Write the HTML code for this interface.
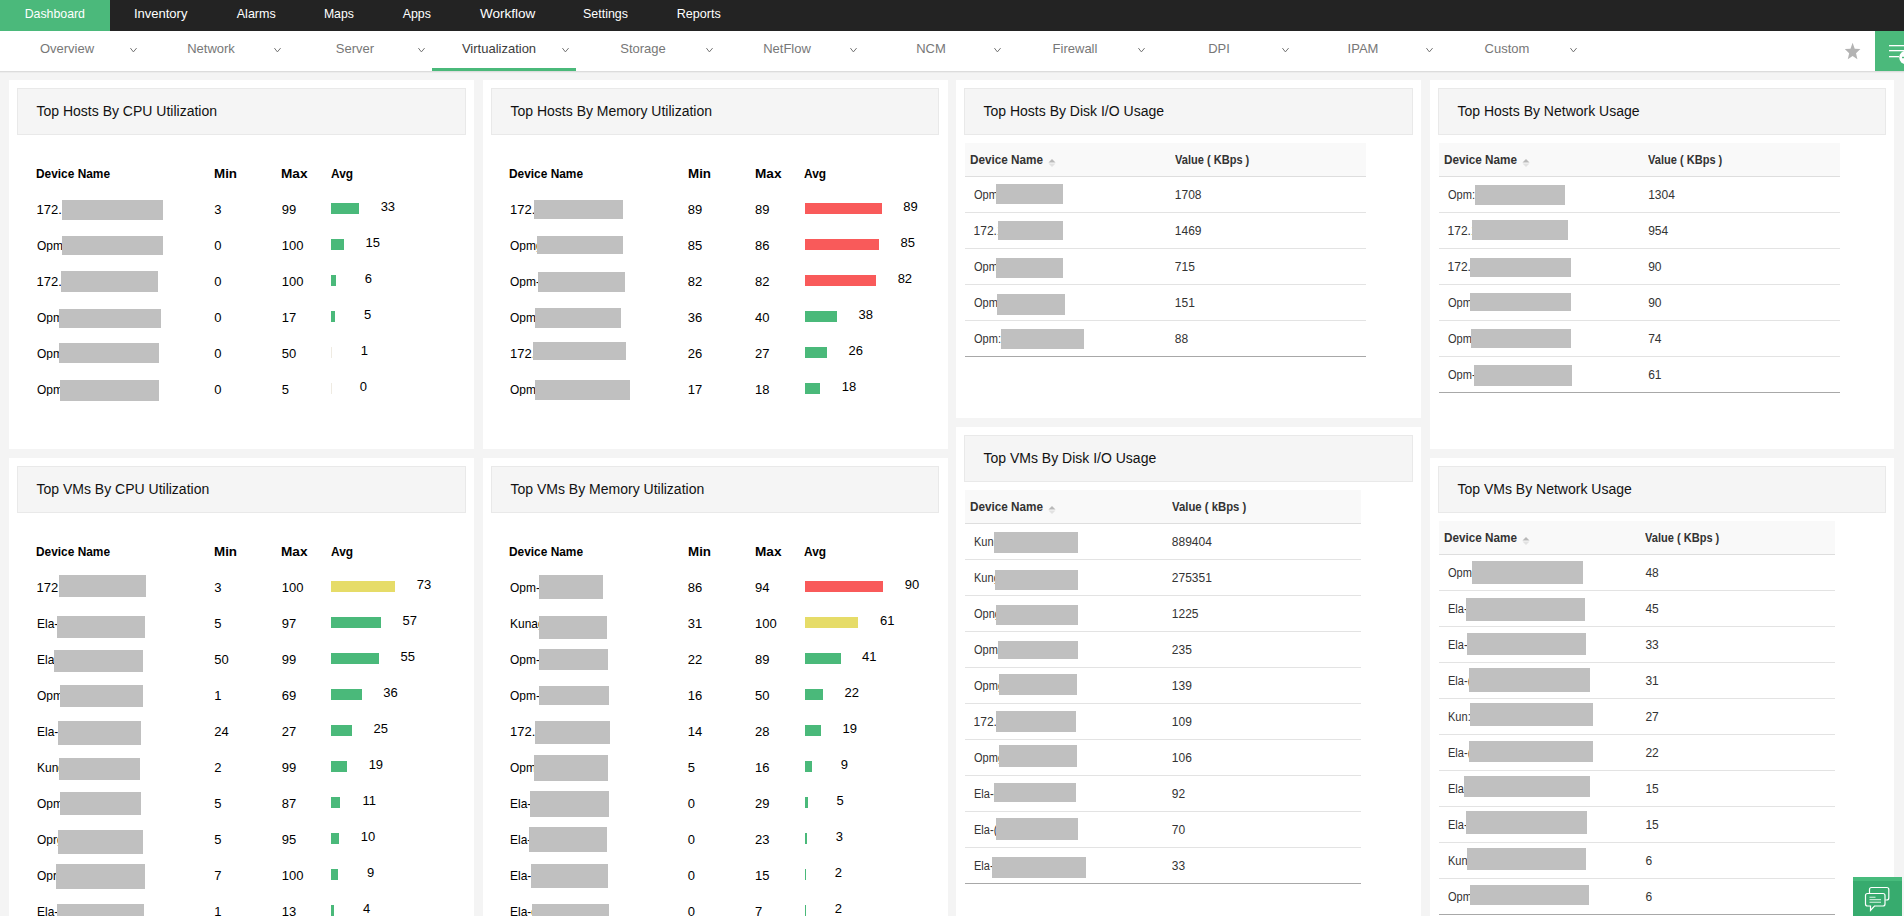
<!DOCTYPE html>
<html><head><meta charset="utf-8"><title>Virtualization Dashboard</title>
<style>
html,body{margin:0;padding:0;width:1904px;height:916px;overflow:hidden;background:#f4f4f4;font-family:"Liberation Sans", sans-serif;}
.t{position:absolute;white-space:nowrap;line-height:1;}
.r{position:absolute;}
</style></head><body>
<div class="r" style="left:0.00px;top:0.00px;width:1904.00px;height:31.00px;background:#232323;"></div>
<div class="r" style="left:0.00px;top:0.00px;width:110.00px;height:31.00px;background:#4bb97b;"></div>
<div class="t" style="left:23.25px;top:7.20px;font-size:13px;color:#ffffff;transform:scaleX(0.948);">Dashboard</div>
<div class="t" style="left:133.92px;top:7.20px;font-size:13px;color:#ffffff;transform:scaleX(1.000);">Inventory</div>
<div class="t" style="left:235.53px;top:7.20px;font-size:13px;color:#ffffff;transform:scaleX(0.963);">Alarms</div>
<div class="t" style="left:323.11px;top:7.20px;font-size:13px;color:#ffffff;transform:scaleX(0.943);">Maps</div>
<div class="t" style="left:402.09px;top:7.20px;font-size:13px;color:#ffffff;transform:scaleX(0.953);">Apps</div>
<div class="t" style="left:480.84px;top:7.20px;font-size:13px;color:#ffffff;transform:scaleX(1.041);">Workflow</div>
<div class="t" style="left:582.26px;top:7.20px;font-size:13px;color:#ffffff;transform:scaleX(0.955);">Settings</div>
<div class="t" style="left:676.39px;top:7.20px;font-size:13px;color:#ffffff;transform:scaleX(0.969);">Reports</div>
<div class="r" style="left:0.00px;top:31.00px;width:1904.00px;height:40.00px;background:#ffffff;"></div>
<div class="r" style="left:0.00px;top:71.00px;width:1904.00px;height:1.00px;background:#dcdcdc;"></div>
<div class="r" style="left:0.00px;top:72.00px;width:1904.00px;height:1.00px;background:#ececec;"></div>
<div class="t" style="left:39.91px;top:41.80px;font-size:13px;color:#777777;">Overview</div>
<svg class="r" style="left:130px;top:46px" width="8" height="8" viewBox="0 0 8 8"><path d="M0.4 2.1 L3.4 5.9 L6.6 2.1" fill="none" stroke="#6a6a6a" stroke-width="0.95"/></svg>
<div class="t" style="left:187.16px;top:41.80px;font-size:13px;color:#777777;">Network</div>
<svg class="r" style="left:274px;top:46px" width="8" height="8" viewBox="0 0 8 8"><path d="M0.4 2.1 L3.4 5.9 L6.6 2.1" fill="none" stroke="#6a6a6a" stroke-width="0.95"/></svg>
<div class="t" style="left:335.86px;top:41.80px;font-size:13px;color:#777777;">Server</div>
<svg class="r" style="left:418px;top:46px" width="8" height="8" viewBox="0 0 8 8"><path d="M0.4 2.1 L3.4 5.9 L6.6 2.1" fill="none" stroke="#6a6a6a" stroke-width="0.95"/></svg>
<div class="t" style="left:461.91px;top:41.80px;font-size:13px;color:#3c3c3c;">Virtualization</div>
<svg class="r" style="left:562px;top:46px" width="8" height="8" viewBox="0 0 8 8"><path d="M0.4 2.1 L3.4 5.9 L6.6 2.1" fill="none" stroke="#6a6a6a" stroke-width="0.95"/></svg>
<div class="t" style="left:620.24px;top:41.80px;font-size:13px;color:#777777;">Storage</div>
<svg class="r" style="left:706px;top:46px" width="8" height="8" viewBox="0 0 8 8"><path d="M0.4 2.1 L3.4 5.9 L6.6 2.1" fill="none" stroke="#6a6a6a" stroke-width="0.95"/></svg>
<div class="t" style="left:763.16px;top:41.80px;font-size:13px;color:#777777;">NetFlow</div>
<svg class="r" style="left:850px;top:46px" width="8" height="8" viewBox="0 0 8 8"><path d="M0.4 2.1 L3.4 5.9 L6.6 2.1" fill="none" stroke="#6a6a6a" stroke-width="0.95"/></svg>
<div class="t" style="left:916.20px;top:41.80px;font-size:13px;color:#777777;">NCM</div>
<svg class="r" style="left:994px;top:46px" width="8" height="8" viewBox="0 0 8 8"><path d="M0.4 2.1 L3.4 5.9 L6.6 2.1" fill="none" stroke="#6a6a6a" stroke-width="0.95"/></svg>
<div class="t" style="left:1052.61px;top:41.80px;font-size:13px;color:#777777;">Firewall</div>
<svg class="r" style="left:1138px;top:46px" width="8" height="8" viewBox="0 0 8 8"><path d="M0.4 2.1 L3.4 5.9 L6.6 2.1" fill="none" stroke="#6a6a6a" stroke-width="0.95"/></svg>
<div class="t" style="left:1208.16px;top:41.80px;font-size:13px;color:#777777;">DPI</div>
<svg class="r" style="left:1282px;top:46px" width="8" height="8" viewBox="0 0 8 8"><path d="M0.4 2.1 L3.4 5.9 L6.6 2.1" fill="none" stroke="#6a6a6a" stroke-width="0.95"/></svg>
<div class="t" style="left:1347.59px;top:41.80px;font-size:13px;color:#777777;">IPAM</div>
<svg class="r" style="left:1426px;top:46px" width="8" height="8" viewBox="0 0 8 8"><path d="M0.4 2.1 L3.4 5.9 L6.6 2.1" fill="none" stroke="#6a6a6a" stroke-width="0.95"/></svg>
<div class="t" style="left:1484.61px;top:41.80px;font-size:13px;color:#777777;">Custom</div>
<svg class="r" style="left:1570px;top:46px" width="8" height="8" viewBox="0 0 8 8"><path d="M0.4 2.1 L3.4 5.9 L6.6 2.1" fill="none" stroke="#6a6a6a" stroke-width="0.95"/></svg>
<div class="r" style="left:432.00px;top:68.00px;width:144.00px;height:3.00px;background:#4ab97a;"></div>
<svg class="r" style="left:1845px;top:42px" width="16" height="18" viewBox="0 0 16 18"><path d="M7.60 0.80 L9.72 6.66 L15.39 7.09 L11.03 11.14 L12.41 17.26 L7.60 13.90 L2.79 17.26 L4.17 11.14 L-0.19 7.09 L5.48 6.66 Z" fill="#b3b3b3"/></svg>
<div class="r" style="left:1875.00px;top:31.00px;width:29.00px;height:40.00px;background:#4bb97b;"></div>
<svg class="r" style="left:1875px;top:31px" width="29" height="40" viewBox="0 0 29 40"><rect x="14" y="14" width="15" height="1.3" fill="#fff"/><rect x="14" y="19" width="15" height="1.3" fill="#fff"/><rect x="14" y="25" width="10" height="1.3" fill="#fff"/><circle cx="31" cy="26.5" r="6.8" fill="#fff"/><rect x="27" y="25.8" width="6" height="1.4" fill="#4bb97b"/></svg>
<div class="r" style="left:0.00px;top:73.00px;width:1904.00px;height:843.00px;background:#f4f4f4;"></div>
<div class="r" style="left:9.00px;top:80.00px;width:465.00px;height:369.00px;background:#ffffff;"></div>
<div class="r" style="left:483.00px;top:80.00px;width:465.00px;height:369.00px;background:#ffffff;"></div>
<div class="r" style="left:956.00px;top:80.00px;width:465.00px;height:338.00px;background:#ffffff;"></div>
<div class="r" style="left:1430.00px;top:80.00px;width:464.00px;height:369.00px;background:#ffffff;"></div>
<div class="r" style="left:9.00px;top:458.00px;width:465.00px;height:458.00px;background:#ffffff;"></div>
<div class="r" style="left:483.00px;top:458.00px;width:465.00px;height:458.00px;background:#ffffff;"></div>
<div class="r" style="left:956.00px;top:427.00px;width:465.00px;height:489.00px;background:#ffffff;"></div>
<div class="r" style="left:1430.00px;top:458.00px;width:464.00px;height:458.00px;background:#ffffff;"></div>
<div class="r" style="left:17px;top:88px;width:449px;height:47px;background:#f5f5f5;border:1px solid #e9e9e9;box-sizing:border-box"></div>
<div class="t" style="left:36.50px;top:104.15px;font-size:14px;color:#111;">Top Hosts By CPU Utilization</div>
<div class="r" style="left:491px;top:88px;width:448px;height:47px;background:#f5f5f5;border:1px solid #e9e9e9;box-sizing:border-box"></div>
<div class="t" style="left:510.50px;top:104.15px;font-size:14px;color:#111;">Top Hosts By Memory Utilization</div>
<div class="r" style="left:964px;top:88px;width:449px;height:47px;background:#f5f5f5;border:1px solid #e9e9e9;box-sizing:border-box"></div>
<div class="t" style="left:983.50px;top:104.15px;font-size:14px;color:#111;">Top Hosts By Disk I/O Usage</div>
<div class="r" style="left:1438px;top:88px;width:448px;height:47px;background:#f5f5f5;border:1px solid #e9e9e9;box-sizing:border-box"></div>
<div class="t" style="left:1457.50px;top:104.15px;font-size:14px;color:#111;">Top Hosts By Network Usage</div>
<div class="r" style="left:17px;top:466px;width:449px;height:47px;background:#f5f5f5;border:1px solid #e9e9e9;box-sizing:border-box"></div>
<div class="t" style="left:36.50px;top:482.15px;font-size:14px;color:#111;">Top VMs By CPU Utilization</div>
<div class="r" style="left:491px;top:466px;width:448px;height:47px;background:#f5f5f5;border:1px solid #e9e9e9;box-sizing:border-box"></div>
<div class="t" style="left:510.50px;top:482.15px;font-size:14px;color:#111;">Top VMs By Memory Utilization</div>
<div class="r" style="left:964px;top:435px;width:449px;height:47px;background:#f5f5f5;border:1px solid #e9e9e9;box-sizing:border-box"></div>
<div class="t" style="left:983.50px;top:451.15px;font-size:14px;color:#111;">Top VMs By Disk I/O Usage</div>
<div class="r" style="left:1438px;top:466px;width:448px;height:47px;background:#f5f5f5;border:1px solid #e9e9e9;box-sizing:border-box"></div>
<div class="t" style="left:1457.50px;top:482.15px;font-size:14px;color:#111;">Top VMs By Network Usage</div>
<div class="t" style="left:35.80px;top:166.90px;font-size:13px;font-weight:bold;transform:scaleX(0.9143);transform-origin:0 0;color:#000;">Device Name</div>
<div class="t" style="left:214.30px;top:166.90px;font-size:13px;font-weight:bold;transform:scaleX(1.0277);transform-origin:0 0;color:#000;">Min</div>
<div class="t" style="left:281.30px;top:166.90px;font-size:13px;font-weight:bold;transform:scaleX(1.0480);transform-origin:0 0;color:#000;">Max</div>
<div class="t" style="left:330.80px;top:166.90px;font-size:13px;font-weight:bold;transform:scaleX(0.9138);transform-origin:0 0;color:#000;">Avg</div>
<div class="t" style="left:36.60px;top:203.20px;width:25.90px;overflow:hidden;font-size:13px;color:#000">172.16</div>
<div class="r" style="left:62.00px;top:200.00px;width:101.00px;height:20.00px;background:#c0c0c0;"></div>
<div class="t" style="left:214.30px;top:203.20px;font-size:13px;color:#000;">3</div>
<div class="t" style="left:281.70px;top:203.20px;font-size:13px;color:#000;">99</div>
<div class="r" style="left:331.00px;top:203.00px;width:28.10px;height:11.00px;background:#4ab97a;"></div>
<div class="t" style="right:1508.90px;top:200.00px;font-size:13px;color:#000;">33</div>
<div class="t" style="left:36.60px;top:239.20px;width:25.90px;overflow:hidden;font-size:13px;color:#000"><span style="display:inline-block;transform:scaleX(0.92);transform-origin:0 0">Opmgr</span></div>
<div class="r" style="left:62.00px;top:236.00px;width:101.00px;height:19.00px;background:#c0c0c0;"></div>
<div class="t" style="left:214.30px;top:239.20px;font-size:13px;color:#000;">0</div>
<div class="t" style="left:281.70px;top:239.20px;font-size:13px;color:#000;">100</div>
<div class="r" style="left:331.00px;top:239.00px;width:13.00px;height:11.00px;background:#4ab97a;"></div>
<div class="t" style="right:1524.00px;top:236.00px;font-size:13px;color:#000;">15</div>
<div class="t" style="left:36.60px;top:275.20px;width:24.90px;overflow:hidden;font-size:13px;color:#000">172.16</div>
<div class="r" style="left:61.00px;top:271.00px;width:97.00px;height:21.00px;background:#c0c0c0;"></div>
<div class="t" style="left:214.30px;top:275.20px;font-size:13px;color:#000;">0</div>
<div class="t" style="left:281.70px;top:275.20px;font-size:13px;color:#000;">100</div>
<div class="r" style="left:331.00px;top:275.00px;width:5.00px;height:11.00px;background:#4ab97a;"></div>
<div class="t" style="right:1532.00px;top:272.00px;font-size:13px;color:#000;">6</div>
<div class="t" style="left:36.60px;top:311.20px;width:22.90px;overflow:hidden;font-size:13px;color:#000"><span style="display:inline-block;transform:scaleX(0.92);transform-origin:0 0">Opmgr</span></div>
<div class="r" style="left:59.00px;top:309.00px;width:102.00px;height:19.00px;background:#c0c0c0;"></div>
<div class="t" style="left:214.30px;top:311.20px;font-size:13px;color:#000;">0</div>
<div class="t" style="left:281.70px;top:311.20px;font-size:13px;color:#000;">17</div>
<div class="r" style="left:331.00px;top:311.00px;width:4.25px;height:11.00px;background:#4ab97a;"></div>
<div class="t" style="right:1532.75px;top:308.00px;font-size:13px;color:#000;">5</div>
<div class="t" style="left:36.60px;top:347.20px;width:22.90px;overflow:hidden;font-size:13px;color:#000"><span style="display:inline-block;transform:scaleX(0.92);transform-origin:0 0">Opmgr</span></div>
<div class="r" style="left:59.00px;top:343.00px;width:100.00px;height:20.00px;background:#c0c0c0;"></div>
<div class="t" style="left:214.30px;top:347.20px;font-size:13px;color:#000;">0</div>
<div class="t" style="left:281.70px;top:347.20px;font-size:13px;color:#000;">50</div>
<div class="r" style="left:331.00px;top:347.00px;width:1.00px;height:11.00px;background:#efebe2;"></div>
<div class="t" style="right:1536.10px;top:344.00px;font-size:13px;color:#000;">1</div>
<div class="t" style="left:36.60px;top:383.20px;width:23.90px;overflow:hidden;font-size:13px;color:#000"><span style="display:inline-block;transform:scaleX(0.92);transform-origin:0 0">Opmgr</span></div>
<div class="r" style="left:60.00px;top:380.00px;width:99.00px;height:21.00px;background:#c0c0c0;"></div>
<div class="t" style="left:214.30px;top:383.20px;font-size:13px;color:#000;">0</div>
<div class="t" style="left:281.70px;top:383.20px;font-size:13px;color:#000;">5</div>
<div class="r" style="left:331.00px;top:383.00px;width:1.00px;height:11.00px;background:#efebe2;"></div>
<div class="t" style="right:1537.00px;top:380.00px;font-size:13px;color:#000;">0</div>
<div class="t" style="left:509.20px;top:166.90px;font-size:13px;font-weight:bold;transform:scaleX(0.9143);transform-origin:0 0;color:#000;">Device Name</div>
<div class="t" style="left:687.70px;top:166.90px;font-size:13px;font-weight:bold;transform:scaleX(1.0277);transform-origin:0 0;color:#000;">Min</div>
<div class="t" style="left:754.70px;top:166.90px;font-size:13px;font-weight:bold;transform:scaleX(1.0480);transform-origin:0 0;color:#000;">Max</div>
<div class="t" style="left:804.20px;top:166.90px;font-size:13px;font-weight:bold;transform:scaleX(0.9138);transform-origin:0 0;color:#000;">Avg</div>
<div class="t" style="left:510.00px;top:203.20px;width:24.50px;overflow:hidden;font-size:13px;color:#000">172.16</div>
<div class="r" style="left:534.00px;top:200.00px;width:89.00px;height:19.00px;background:#c0c0c0;"></div>
<div class="t" style="left:687.70px;top:203.20px;font-size:13px;color:#000;">89</div>
<div class="t" style="left:755.10px;top:203.20px;font-size:13px;color:#000;">89</div>
<div class="r" style="left:805.00px;top:203.00px;width:76.80px;height:11.00px;background:#f95a5a;"></div>
<div class="t" style="right:986.20px;top:200.00px;font-size:13px;color:#000;">89</div>
<div class="t" style="left:510.00px;top:239.20px;width:27.50px;overflow:hidden;font-size:13px;color:#000"><span style="display:inline-block;transform:scaleX(0.92);transform-origin:0 0">Opmgr</span></div>
<div class="r" style="left:537.00px;top:236.00px;width:86.00px;height:18.00px;background:#c0c0c0;"></div>
<div class="t" style="left:687.70px;top:239.20px;font-size:13px;color:#000;">85</div>
<div class="t" style="left:755.10px;top:239.20px;font-size:13px;color:#000;">86</div>
<div class="r" style="left:805.00px;top:239.00px;width:74.00px;height:11.00px;background:#f95a5a;"></div>
<div class="t" style="right:989.00px;top:236.00px;font-size:13px;color:#000;">85</div>
<div class="t" style="left:510.00px;top:275.20px;width:28.50px;overflow:hidden;font-size:13px;color:#000"><span style="display:inline-block;transform:scaleX(0.92);transform-origin:0 0">Opm-gr</span></div>
<div class="r" style="left:538.00px;top:272.00px;width:87.00px;height:20.00px;background:#c0c0c0;"></div>
<div class="t" style="left:687.70px;top:275.20px;font-size:13px;color:#000;">82</div>
<div class="t" style="left:755.10px;top:275.20px;font-size:13px;color:#000;">82</div>
<div class="r" style="left:805.00px;top:275.00px;width:71.10px;height:11.00px;background:#f95a5a;"></div>
<div class="t" style="right:991.90px;top:272.00px;font-size:13px;color:#000;">82</div>
<div class="t" style="left:510.00px;top:311.20px;width:25.50px;overflow:hidden;font-size:13px;color:#000"><span style="display:inline-block;transform:scaleX(0.92);transform-origin:0 0">Opmgr</span></div>
<div class="r" style="left:535.00px;top:308.00px;width:86.00px;height:20.00px;background:#c0c0c0;"></div>
<div class="t" style="left:687.70px;top:311.20px;font-size:13px;color:#000;">36</div>
<div class="t" style="left:755.10px;top:311.20px;font-size:13px;color:#000;">40</div>
<div class="r" style="left:805.00px;top:311.00px;width:32.00px;height:11.00px;background:#4ab97a;"></div>
<div class="t" style="right:1031.00px;top:308.00px;font-size:13px;color:#000;">38</div>
<div class="t" style="left:510.00px;top:347.20px;width:23.50px;overflow:hidden;font-size:13px;color:#000">172.16</div>
<div class="r" style="left:533.00px;top:342.00px;width:93.00px;height:18.00px;background:#c0c0c0;"></div>
<div class="t" style="left:687.70px;top:347.20px;font-size:13px;color:#000;">26</div>
<div class="t" style="left:755.10px;top:347.20px;font-size:13px;color:#000;">27</div>
<div class="r" style="left:805.00px;top:347.00px;width:22.00px;height:11.00px;background:#4ab97a;"></div>
<div class="t" style="right:1041.00px;top:344.00px;font-size:13px;color:#000;">26</div>
<div class="t" style="left:510.00px;top:383.20px;width:25.50px;overflow:hidden;font-size:13px;color:#000"><span style="display:inline-block;transform:scaleX(0.92);transform-origin:0 0">Opmgr</span></div>
<div class="r" style="left:535.00px;top:380.00px;width:95.00px;height:20.00px;background:#c0c0c0;"></div>
<div class="t" style="left:687.70px;top:383.20px;font-size:13px;color:#000;">17</div>
<div class="t" style="left:755.10px;top:383.20px;font-size:13px;color:#000;">18</div>
<div class="r" style="left:805.00px;top:383.00px;width:15.20px;height:11.00px;background:#4ab97a;"></div>
<div class="t" style="right:1047.80px;top:380.00px;font-size:13px;color:#000;">18</div>
<div class="t" style="left:35.80px;top:544.90px;font-size:13px;font-weight:bold;transform:scaleX(0.9143);transform-origin:0 0;color:#000;">Device Name</div>
<div class="t" style="left:214.30px;top:544.90px;font-size:13px;font-weight:bold;transform:scaleX(1.0277);transform-origin:0 0;color:#000;">Min</div>
<div class="t" style="left:281.30px;top:544.90px;font-size:13px;font-weight:bold;transform:scaleX(1.0480);transform-origin:0 0;color:#000;">Max</div>
<div class="t" style="left:330.80px;top:544.90px;font-size:13px;font-weight:bold;transform:scaleX(0.9138);transform-origin:0 0;color:#000;">Avg</div>
<div class="t" style="left:36.60px;top:581.20px;width:22.90px;overflow:hidden;font-size:13px;color:#000">172.16</div>
<div class="r" style="left:59.00px;top:575.00px;width:87.00px;height:22.00px;background:#c0c0c0;"></div>
<div class="t" style="left:214.30px;top:581.20px;font-size:13px;color:#000;">3</div>
<div class="t" style="left:281.70px;top:581.20px;font-size:13px;color:#000;">100</div>
<div class="r" style="left:331.00px;top:581.00px;width:64.20px;height:11.00px;background:#e6dc68;"></div>
<div class="t" style="right:1472.80px;top:578.00px;font-size:13px;color:#000;">73</div>
<div class="t" style="left:36.60px;top:617.20px;width:20.90px;overflow:hidden;font-size:13px;color:#000"><span style="display:inline-block;transform:scaleX(0.92);transform-origin:0 0">Ela-gr</span></div>
<div class="r" style="left:57.00px;top:616.00px;width:88.00px;height:22.00px;background:#c0c0c0;"></div>
<div class="t" style="left:214.30px;top:617.20px;font-size:13px;color:#000;">5</div>
<div class="t" style="left:281.70px;top:617.20px;font-size:13px;color:#000;">97</div>
<div class="r" style="left:331.00px;top:617.00px;width:50.00px;height:11.00px;background:#4ab97a;"></div>
<div class="t" style="right:1487.00px;top:614.00px;font-size:13px;color:#000;">57</div>
<div class="t" style="left:36.60px;top:653.20px;width:17.90px;overflow:hidden;font-size:13px;color:#000"><span style="display:inline-block;transform:scaleX(0.92);transform-origin:0 0">Elagr</span></div>
<div class="r" style="left:54.00px;top:650.00px;width:89.00px;height:22.00px;background:#c0c0c0;"></div>
<div class="t" style="left:214.30px;top:653.20px;font-size:13px;color:#000;">50</div>
<div class="t" style="left:281.70px;top:653.20px;font-size:13px;color:#000;">99</div>
<div class="r" style="left:331.00px;top:653.00px;width:47.90px;height:11.00px;background:#4ab97a;"></div>
<div class="t" style="right:1489.10px;top:650.00px;font-size:13px;color:#000;">55</div>
<div class="t" style="left:36.60px;top:689.20px;width:23.90px;overflow:hidden;font-size:13px;color:#000"><span style="display:inline-block;transform:scaleX(0.92);transform-origin:0 0">Opmgr</span></div>
<div class="r" style="left:60.00px;top:685.00px;width:83.00px;height:22.00px;background:#c0c0c0;"></div>
<div class="t" style="left:214.30px;top:689.20px;font-size:13px;color:#000;">1</div>
<div class="t" style="left:281.70px;top:689.20px;font-size:13px;color:#000;">69</div>
<div class="r" style="left:331.00px;top:689.00px;width:30.80px;height:11.00px;background:#4ab97a;"></div>
<div class="t" style="right:1506.20px;top:686.00px;font-size:13px;color:#000;">36</div>
<div class="t" style="left:36.60px;top:725.20px;width:21.90px;overflow:hidden;font-size:13px;color:#000"><span style="display:inline-block;transform:scaleX(0.92);transform-origin:0 0">Ela-gr</span></div>
<div class="r" style="left:58.00px;top:721.00px;width:83.00px;height:24.00px;background:#c0c0c0;"></div>
<div class="t" style="left:214.30px;top:725.20px;font-size:13px;color:#000;">24</div>
<div class="t" style="left:281.70px;top:725.20px;font-size:13px;color:#000;">27</div>
<div class="r" style="left:331.00px;top:725.00px;width:21.00px;height:11.00px;background:#4ab97a;"></div>
<div class="t" style="right:1516.00px;top:722.00px;font-size:13px;color:#000;">25</div>
<div class="t" style="left:36.60px;top:761.20px;width:22.90px;overflow:hidden;font-size:13px;color:#000"><span style="display:inline-block;transform:scaleX(0.92);transform-origin:0 0">Kungr</span></div>
<div class="r" style="left:59.00px;top:758.00px;width:81.00px;height:22.00px;background:#c0c0c0;"></div>
<div class="t" style="left:214.30px;top:761.20px;font-size:13px;color:#000;">2</div>
<div class="t" style="left:281.70px;top:761.20px;font-size:13px;color:#000;">99</div>
<div class="r" style="left:331.00px;top:761.00px;width:16.10px;height:11.00px;background:#4ab97a;"></div>
<div class="t" style="right:1520.90px;top:758.00px;font-size:13px;color:#000;">19</div>
<div class="t" style="left:36.60px;top:797.20px;width:23.90px;overflow:hidden;font-size:13px;color:#000"><span style="display:inline-block;transform:scaleX(0.92);transform-origin:0 0">Opmgr</span></div>
<div class="r" style="left:60.00px;top:792.00px;width:81.00px;height:23.00px;background:#c0c0c0;"></div>
<div class="t" style="left:214.30px;top:797.20px;font-size:13px;color:#000;">5</div>
<div class="t" style="left:281.70px;top:797.20px;font-size:13px;color:#000;">87</div>
<div class="r" style="left:331.00px;top:797.00px;width:9.00px;height:11.00px;background:#4ab97a;"></div>
<div class="t" style="right:1528.00px;top:794.00px;font-size:13px;color:#000;">11</div>
<div class="t" style="left:36.60px;top:833.20px;width:21.90px;overflow:hidden;font-size:13px;color:#000"><span style="display:inline-block;transform:scaleX(0.92);transform-origin:0 0">Oprgr</span></div>
<div class="r" style="left:58.00px;top:830.00px;width:85.00px;height:24.00px;background:#c0c0c0;"></div>
<div class="t" style="left:214.30px;top:833.20px;font-size:13px;color:#000;">5</div>
<div class="t" style="left:281.70px;top:833.20px;font-size:13px;color:#000;">95</div>
<div class="r" style="left:331.00px;top:833.00px;width:8.30px;height:11.00px;background:#4ab97a;"></div>
<div class="t" style="right:1528.70px;top:830.00px;font-size:13px;color:#000;">10</div>
<div class="t" style="left:36.60px;top:869.20px;width:19.90px;overflow:hidden;font-size:13px;color:#000"><span style="display:inline-block;transform:scaleX(0.92);transform-origin:0 0">Oprgr</span></div>
<div class="r" style="left:56.00px;top:864.00px;width:89.00px;height:25.00px;background:#c0c0c0;"></div>
<div class="t" style="left:214.30px;top:869.20px;font-size:13px;color:#000;">7</div>
<div class="t" style="left:281.70px;top:869.20px;font-size:13px;color:#000;">100</div>
<div class="r" style="left:331.00px;top:869.00px;width:7.20px;height:11.00px;background:#4ab97a;"></div>
<div class="t" style="right:1529.80px;top:866.00px;font-size:13px;color:#000;">9</div>
<div class="t" style="left:36.60px;top:905.20px;width:20.90px;overflow:hidden;font-size:13px;color:#000"><span style="display:inline-block;transform:scaleX(0.92);transform-origin:0 0">Ela-gr</span></div>
<div class="r" style="left:57.00px;top:904.00px;width:87.00px;height:26.00px;background:#c0c0c0;"></div>
<div class="t" style="left:214.30px;top:905.20px;font-size:13px;color:#000;">1</div>
<div class="t" style="left:281.70px;top:905.20px;font-size:13px;color:#000;">13</div>
<div class="r" style="left:331.00px;top:905.00px;width:3.10px;height:11.00px;background:#4ab97a;"></div>
<div class="t" style="right:1533.90px;top:902.00px;font-size:13px;color:#000;">4</div>
<div class="t" style="left:509.20px;top:544.90px;font-size:13px;font-weight:bold;transform:scaleX(0.9143);transform-origin:0 0;color:#000;">Device Name</div>
<div class="t" style="left:687.70px;top:544.90px;font-size:13px;font-weight:bold;transform:scaleX(1.0277);transform-origin:0 0;color:#000;">Min</div>
<div class="t" style="left:754.70px;top:544.90px;font-size:13px;font-weight:bold;transform:scaleX(1.0480);transform-origin:0 0;color:#000;">Max</div>
<div class="t" style="left:804.20px;top:544.90px;font-size:13px;font-weight:bold;transform:scaleX(0.9138);transform-origin:0 0;color:#000;">Avg</div>
<div class="t" style="left:510.00px;top:581.20px;width:29.50px;overflow:hidden;font-size:13px;color:#000"><span style="display:inline-block;transform:scaleX(0.92);transform-origin:0 0">Opm-gr</span></div>
<div class="r" style="left:539.00px;top:575.00px;width:64.00px;height:24.00px;background:#c0c0c0;"></div>
<div class="t" style="left:687.70px;top:581.20px;font-size:13px;color:#000;">86</div>
<div class="t" style="left:755.10px;top:581.20px;font-size:13px;color:#000;">94</div>
<div class="r" style="left:805.00px;top:581.00px;width:78.30px;height:11.00px;background:#f95a5a;"></div>
<div class="t" style="right:984.70px;top:578.00px;font-size:13px;color:#000;">90</div>
<div class="t" style="left:510.00px;top:617.20px;width:29.50px;overflow:hidden;font-size:13px;color:#000"><span style="display:inline-block;transform:scaleX(0.92);transform-origin:0 0">Kunagr</span></div>
<div class="r" style="left:539.00px;top:616.00px;width:68.00px;height:23.00px;background:#c0c0c0;"></div>
<div class="t" style="left:687.70px;top:617.20px;font-size:13px;color:#000;">31</div>
<div class="t" style="left:755.10px;top:617.20px;font-size:13px;color:#000;">100</div>
<div class="r" style="left:805.00px;top:617.00px;width:53.40px;height:11.00px;background:#e6dc68;"></div>
<div class="t" style="right:1009.60px;top:614.00px;font-size:13px;color:#000;">61</div>
<div class="t" style="left:510.00px;top:653.20px;width:29.50px;overflow:hidden;font-size:13px;color:#000"><span style="display:inline-block;transform:scaleX(0.92);transform-origin:0 0">Opm-gr</span></div>
<div class="r" style="left:539.00px;top:649.00px;width:69.00px;height:21.00px;background:#c0c0c0;"></div>
<div class="t" style="left:687.70px;top:653.20px;font-size:13px;color:#000;">22</div>
<div class="t" style="left:755.10px;top:653.20px;font-size:13px;color:#000;">89</div>
<div class="r" style="left:805.00px;top:653.00px;width:35.50px;height:11.00px;background:#4ab97a;"></div>
<div class="t" style="right:1027.50px;top:650.00px;font-size:13px;color:#000;">41</div>
<div class="t" style="left:510.00px;top:689.20px;width:29.50px;overflow:hidden;font-size:13px;color:#000"><span style="display:inline-block;transform:scaleX(0.92);transform-origin:0 0">Opm-gr</span></div>
<div class="r" style="left:539.00px;top:686.00px;width:70.00px;height:19.00px;background:#c0c0c0;"></div>
<div class="t" style="left:687.70px;top:689.20px;font-size:13px;color:#000;">16</div>
<div class="t" style="left:755.10px;top:689.20px;font-size:13px;color:#000;">50</div>
<div class="r" style="left:805.00px;top:689.00px;width:18.00px;height:11.00px;background:#4ab97a;"></div>
<div class="t" style="right:1045.00px;top:686.00px;font-size:13px;color:#000;">22</div>
<div class="t" style="left:510.00px;top:725.20px;width:25.50px;overflow:hidden;font-size:13px;color:#000">172.16</div>
<div class="r" style="left:535.00px;top:721.00px;width:75.00px;height:23.00px;background:#c0c0c0;"></div>
<div class="t" style="left:687.70px;top:725.20px;font-size:13px;color:#000;">14</div>
<div class="t" style="left:755.10px;top:725.20px;font-size:13px;color:#000;">28</div>
<div class="r" style="left:805.00px;top:725.00px;width:16.00px;height:11.00px;background:#4ab97a;"></div>
<div class="t" style="right:1047.00px;top:722.00px;font-size:13px;color:#000;">19</div>
<div class="t" style="left:510.00px;top:761.20px;width:24.50px;overflow:hidden;font-size:13px;color:#000"><span style="display:inline-block;transform:scaleX(0.92);transform-origin:0 0">Opmgr</span></div>
<div class="r" style="left:534.00px;top:755.00px;width:74.00px;height:26.00px;background:#c0c0c0;"></div>
<div class="t" style="left:687.70px;top:761.20px;font-size:13px;color:#000;">5</div>
<div class="t" style="left:755.10px;top:761.20px;font-size:13px;color:#000;">16</div>
<div class="r" style="left:805.00px;top:761.00px;width:7.00px;height:11.00px;background:#4ab97a;"></div>
<div class="t" style="right:1056.00px;top:758.00px;font-size:13px;color:#000;">9</div>
<div class="t" style="left:510.00px;top:797.20px;width:20.50px;overflow:hidden;font-size:13px;color:#000"><span style="display:inline-block;transform:scaleX(0.92);transform-origin:0 0">Ela-gr</span></div>
<div class="r" style="left:530.00px;top:791.00px;width:79.00px;height:26.00px;background:#c0c0c0;"></div>
<div class="t" style="left:687.70px;top:797.20px;font-size:13px;color:#000;">0</div>
<div class="t" style="left:755.10px;top:797.20px;font-size:13px;color:#000;">29</div>
<div class="r" style="left:805.00px;top:797.00px;width:2.80px;height:11.00px;background:#4ab97a;"></div>
<div class="t" style="right:1060.20px;top:794.00px;font-size:13px;color:#000;">5</div>
<div class="t" style="left:510.00px;top:833.20px;width:19.50px;overflow:hidden;font-size:13px;color:#000"><span style="display:inline-block;transform:scaleX(0.92);transform-origin:0 0">Ela-gr</span></div>
<div class="r" style="left:529.00px;top:827.00px;width:78.00px;height:25.00px;background:#c0c0c0;"></div>
<div class="t" style="left:687.70px;top:833.20px;font-size:13px;color:#000;">0</div>
<div class="t" style="left:755.10px;top:833.20px;font-size:13px;color:#000;">23</div>
<div class="r" style="left:805.00px;top:833.00px;width:2.00px;height:11.00px;background:#4ab97a;"></div>
<div class="t" style="right:1061.00px;top:830.00px;font-size:13px;color:#000;">3</div>
<div class="t" style="left:510.00px;top:869.20px;width:21.50px;overflow:hidden;font-size:13px;color:#000"><span style="display:inline-block;transform:scaleX(0.92);transform-origin:0 0">Ela-gr</span></div>
<div class="r" style="left:531.00px;top:864.00px;width:77.00px;height:24.00px;background:#c0c0c0;"></div>
<div class="t" style="left:687.70px;top:869.20px;font-size:13px;color:#000;">0</div>
<div class="t" style="left:755.10px;top:869.20px;font-size:13px;color:#000;">15</div>
<div class="r" style="left:805.00px;top:869.00px;width:1.00px;height:11.00px;background:#4ab97a;"></div>
<div class="t" style="right:1062.00px;top:866.00px;font-size:13px;color:#000;">2</div>
<div class="t" style="left:510.00px;top:905.20px;width:22.50px;overflow:hidden;font-size:13px;color:#000"><span style="display:inline-block;transform:scaleX(0.92);transform-origin:0 0">Ela-gr</span></div>
<div class="r" style="left:532.00px;top:904.00px;width:77.00px;height:26.00px;background:#c0c0c0;"></div>
<div class="t" style="left:687.70px;top:905.20px;font-size:13px;color:#000;">0</div>
<div class="t" style="left:755.10px;top:905.20px;font-size:13px;color:#000;">7</div>
<div class="r" style="left:805.00px;top:905.00px;width:1.00px;height:11.00px;background:#4ab97a;"></div>
<div class="t" style="right:1062.00px;top:902.00px;font-size:13px;color:#000;">2</div>
<div class="r" style="left:965.00px;top:143.00px;width:401.00px;height:33.00px;background:#f9f9f9;"></div>
<div class="r" style="left:965.00px;top:176.00px;width:401.00px;height:1.00px;background:#dedede;"></div>
<div class="t" style="left:970.40px;top:152.80px;font-size:13px;font-weight:bold;transform:scaleX(0.9020);transform-origin:0 0;color:#333;">Device Name</div>
<svg class="r" style="left:1048.0px;top:157.5px" width="8" height="10" viewBox="0 0 8 10"><path d="M4 1 L7.5 4.5 L0.5 4.5 Z" fill="#b9b9b9"/><path d="M0.5 5.5 L7.5 5.5 L4 9 Z" fill="#e2e2e2"/></svg>
<div class="t" style="left:1174.60px;top:152.80px;font-size:13px;font-weight:bold;transform:scaleX(0.8501);transform-origin:0 0;color:#333;">Value ( KBps )</div>
<div class="t" style="left:973.60px;top:189.04px;width:22.90px;overflow:hidden;font-size:12px;color:#333"><span style="display:inline-block;transform:scaleX(0.92);transform-origin:0 0">Opmgr</span></div>
<div class="r" style="left:996.00px;top:184.00px;width:67.00px;height:20.00px;background:#c0c0c0;"></div>
<div class="t" style="left:1174.80px;top:189.04px;font-size:12px;color:#333;">1708</div>
<div class="r" style="left:965.00px;top:212.00px;width:401.00px;height:1.00px;background:#e3e3e3;"></div>
<div class="t" style="left:973.60px;top:225.04px;width:24.90px;overflow:hidden;font-size:12px;color:#333">172.16</div>
<div class="r" style="left:998.00px;top:221.00px;width:65.00px;height:19.00px;background:#c0c0c0;"></div>
<div class="t" style="left:1174.80px;top:225.04px;font-size:12px;color:#333;">1469</div>
<div class="r" style="left:965.00px;top:248.00px;width:401.00px;height:1.00px;background:#e3e3e3;"></div>
<div class="t" style="left:973.60px;top:261.04px;width:22.90px;overflow:hidden;font-size:12px;color:#333"><span style="display:inline-block;transform:scaleX(0.92);transform-origin:0 0">Opmgr</span></div>
<div class="r" style="left:996.00px;top:258.00px;width:67.00px;height:20.00px;background:#c0c0c0;"></div>
<div class="t" style="left:1174.80px;top:261.04px;font-size:12px;color:#333;">715</div>
<div class="r" style="left:965.00px;top:284.00px;width:401.00px;height:1.00px;background:#e3e3e3;"></div>
<div class="t" style="left:973.60px;top:297.04px;width:23.90px;overflow:hidden;font-size:12px;color:#333"><span style="display:inline-block;transform:scaleX(0.92);transform-origin:0 0">Opmgr</span></div>
<div class="r" style="left:997.00px;top:294.00px;width:68.00px;height:21.00px;background:#c0c0c0;"></div>
<div class="t" style="left:1174.80px;top:297.04px;font-size:12px;color:#333;">151</div>
<div class="r" style="left:965.00px;top:320.00px;width:401.00px;height:1.00px;background:#e3e3e3;"></div>
<div class="t" style="left:973.60px;top:333.04px;width:27.90px;overflow:hidden;font-size:12px;color:#333"><span style="display:inline-block;transform:scaleX(0.92);transform-origin:0 0">Opm:gr</span></div>
<div class="r" style="left:1001.00px;top:329.00px;width:83.00px;height:20.00px;background:#c0c0c0;"></div>
<div class="t" style="left:1174.80px;top:333.04px;font-size:12px;color:#333;">88</div>
<div class="r" style="left:965.00px;top:356.00px;width:401.00px;height:1.00px;background:#a8a8a8;"></div>
<div class="r" style="left:1439.00px;top:143.00px;width:401.00px;height:33.00px;background:#f9f9f9;"></div>
<div class="r" style="left:1439.00px;top:176.00px;width:401.00px;height:1.00px;background:#dedede;"></div>
<div class="t" style="left:1444.40px;top:152.80px;font-size:13px;font-weight:bold;transform:scaleX(0.9020);transform-origin:0 0;color:#333;">Device Name</div>
<svg class="r" style="left:1522.0px;top:157.5px" width="8" height="10" viewBox="0 0 8 10"><path d="M4 1 L7.5 4.5 L0.5 4.5 Z" fill="#b9b9b9"/><path d="M0.5 5.5 L7.5 5.5 L4 9 Z" fill="#e2e2e2"/></svg>
<div class="t" style="left:1648.00px;top:152.80px;font-size:13px;font-weight:bold;transform:scaleX(0.8501);transform-origin:0 0;color:#333;">Value ( KBps )</div>
<div class="t" style="left:1447.60px;top:189.04px;width:27.90px;overflow:hidden;font-size:12px;color:#333"><span style="display:inline-block;transform:scaleX(0.92);transform-origin:0 0">Opm:gr</span></div>
<div class="r" style="left:1475.00px;top:185.00px;width:90.00px;height:19.50px;background:#c0c0c0;"></div>
<div class="t" style="left:1648.20px;top:189.04px;font-size:12px;color:#333;">1304</div>
<div class="r" style="left:1439.00px;top:212.00px;width:401.00px;height:1.00px;background:#e3e3e3;"></div>
<div class="t" style="left:1447.60px;top:225.04px;width:24.90px;overflow:hidden;font-size:12px;color:#333">172.16</div>
<div class="r" style="left:1472.00px;top:220.00px;width:96.00px;height:20.00px;background:#c0c0c0;"></div>
<div class="t" style="left:1648.20px;top:225.04px;font-size:12px;color:#333;">954</div>
<div class="r" style="left:1439.00px;top:248.00px;width:401.00px;height:1.00px;background:#e3e3e3;"></div>
<div class="t" style="left:1447.60px;top:261.04px;width:22.90px;overflow:hidden;font-size:12px;color:#333">172.16</div>
<div class="r" style="left:1470.00px;top:258.00px;width:101.00px;height:19.00px;background:#c0c0c0;"></div>
<div class="t" style="left:1648.20px;top:261.04px;font-size:12px;color:#333;">90</div>
<div class="r" style="left:1439.00px;top:284.00px;width:401.00px;height:1.00px;background:#e3e3e3;"></div>
<div class="t" style="left:1447.60px;top:297.04px;width:22.90px;overflow:hidden;font-size:12px;color:#333"><span style="display:inline-block;transform:scaleX(0.92);transform-origin:0 0">Opmgr</span></div>
<div class="r" style="left:1470.00px;top:293.00px;width:101.00px;height:18.00px;background:#c0c0c0;"></div>
<div class="t" style="left:1648.20px;top:297.04px;font-size:12px;color:#333;">90</div>
<div class="r" style="left:1439.00px;top:320.00px;width:401.00px;height:1.00px;background:#e3e3e3;"></div>
<div class="t" style="left:1447.60px;top:333.04px;width:23.90px;overflow:hidden;font-size:12px;color:#333"><span style="display:inline-block;transform:scaleX(0.92);transform-origin:0 0">Opmgr</span></div>
<div class="r" style="left:1471.00px;top:329.00px;width:100.00px;height:19.00px;background:#c0c0c0;"></div>
<div class="t" style="left:1648.20px;top:333.04px;font-size:12px;color:#333;">74</div>
<div class="r" style="left:1439.00px;top:356.00px;width:401.00px;height:1.00px;background:#e3e3e3;"></div>
<div class="t" style="left:1447.60px;top:369.04px;width:26.90px;overflow:hidden;font-size:12px;color:#333"><span style="display:inline-block;transform:scaleX(0.92);transform-origin:0 0">Opm-gr</span></div>
<div class="r" style="left:1474.00px;top:365.00px;width:98.00px;height:21.00px;background:#c0c0c0;"></div>
<div class="t" style="left:1648.20px;top:369.04px;font-size:12px;color:#333;">61</div>
<div class="r" style="left:1439.00px;top:392.00px;width:401.00px;height:1.00px;background:#a8a8a8;"></div>
<div class="r" style="left:965.00px;top:490.00px;width:396.00px;height:33.00px;background:#f9f9f9;"></div>
<div class="r" style="left:965.00px;top:523.00px;width:396.00px;height:1.00px;background:#dedede;"></div>
<div class="t" style="left:970.40px;top:499.80px;font-size:13px;font-weight:bold;transform:scaleX(0.9020);transform-origin:0 0;color:#333;">Device Name</div>
<svg class="r" style="left:1048.0px;top:504.5px" width="8" height="10" viewBox="0 0 8 10"><path d="M4 1 L7.5 4.5 L0.5 4.5 Z" fill="#b9b9b9"/><path d="M0.5 5.5 L7.5 5.5 L4 9 Z" fill="#e2e2e2"/></svg>
<div class="t" style="left:1171.60px;top:499.80px;font-size:13px;font-weight:bold;transform:scaleX(0.8716);transform-origin:0 0;color:#333;">Value ( kBps )</div>
<div class="t" style="left:973.60px;top:536.04px;width:20.90px;overflow:hidden;font-size:12px;color:#333"><span style="display:inline-block;transform:scaleX(0.92);transform-origin:0 0">Kungr</span></div>
<div class="r" style="left:994.00px;top:532.00px;width:84.00px;height:21.00px;background:#c0c0c0;"></div>
<div class="t" style="left:1171.80px;top:536.04px;font-size:12px;color:#333;">889404</div>
<div class="r" style="left:965.00px;top:559.00px;width:396.00px;height:1.00px;background:#e3e3e3;"></div>
<div class="t" style="left:973.60px;top:572.04px;width:21.90px;overflow:hidden;font-size:12px;color:#333"><span style="display:inline-block;transform:scaleX(0.92);transform-origin:0 0">Kungr</span></div>
<div class="r" style="left:995.00px;top:570.00px;width:83.00px;height:20.00px;background:#c0c0c0;"></div>
<div class="t" style="left:1171.80px;top:572.04px;font-size:12px;color:#333;">275351</div>
<div class="r" style="left:965.00px;top:595.00px;width:396.00px;height:1.00px;background:#e3e3e3;"></div>
<div class="t" style="left:973.60px;top:608.04px;width:22.90px;overflow:hidden;font-size:12px;color:#333"><span style="display:inline-block;transform:scaleX(0.92);transform-origin:0 0">Opngr</span></div>
<div class="r" style="left:996.00px;top:605.00px;width:82.00px;height:20.00px;background:#c0c0c0;"></div>
<div class="t" style="left:1171.80px;top:608.04px;font-size:12px;color:#333;">1225</div>
<div class="r" style="left:965.00px;top:631.00px;width:396.00px;height:1.00px;background:#e3e3e3;"></div>
<div class="t" style="left:973.60px;top:644.04px;width:24.90px;overflow:hidden;font-size:12px;color:#333"><span style="display:inline-block;transform:scaleX(0.92);transform-origin:0 0">Opmgr</span></div>
<div class="r" style="left:998.00px;top:641.00px;width:80.00px;height:18.00px;background:#c0c0c0;"></div>
<div class="t" style="left:1171.80px;top:644.04px;font-size:12px;color:#333;">235</div>
<div class="r" style="left:965.00px;top:667.00px;width:396.00px;height:1.00px;background:#e3e3e3;"></div>
<div class="t" style="left:973.60px;top:680.04px;width:25.90px;overflow:hidden;font-size:12px;color:#333"><span style="display:inline-block;transform:scaleX(0.92);transform-origin:0 0">Opmgr</span></div>
<div class="r" style="left:999.00px;top:674.00px;width:78.00px;height:21.00px;background:#c0c0c0;"></div>
<div class="t" style="left:1171.80px;top:680.04px;font-size:12px;color:#333;">139</div>
<div class="r" style="left:965.00px;top:703.00px;width:396.00px;height:1.00px;background:#e3e3e3;"></div>
<div class="t" style="left:973.60px;top:716.04px;width:22.90px;overflow:hidden;font-size:12px;color:#333">172.16</div>
<div class="r" style="left:996.00px;top:711.00px;width:80.00px;height:21.00px;background:#c0c0c0;"></div>
<div class="t" style="left:1171.80px;top:716.04px;font-size:12px;color:#333;">109</div>
<div class="r" style="left:965.00px;top:739.00px;width:396.00px;height:1.00px;background:#e3e3e3;"></div>
<div class="t" style="left:973.60px;top:752.04px;width:25.90px;overflow:hidden;font-size:12px;color:#333"><span style="display:inline-block;transform:scaleX(0.92);transform-origin:0 0">Opmgr</span></div>
<div class="r" style="left:999.00px;top:745.00px;width:78.00px;height:22.00px;background:#c0c0c0;"></div>
<div class="t" style="left:1171.80px;top:752.04px;font-size:12px;color:#333;">106</div>
<div class="r" style="left:965.00px;top:775.00px;width:396.00px;height:1.00px;background:#e3e3e3;"></div>
<div class="t" style="left:973.60px;top:788.04px;width:20.90px;overflow:hidden;font-size:12px;color:#333"><span style="display:inline-block;transform:scaleX(0.92);transform-origin:0 0">Ela-gr</span></div>
<div class="r" style="left:994.00px;top:783.00px;width:82.00px;height:19.00px;background:#c0c0c0;"></div>
<div class="t" style="left:1171.80px;top:788.04px;font-size:12px;color:#333;">92</div>
<div class="r" style="left:965.00px;top:811.00px;width:396.00px;height:1.00px;background:#e3e3e3;"></div>
<div class="t" style="left:973.60px;top:824.04px;width:22.90px;overflow:hidden;font-size:12px;color:#333"><span style="display:inline-block;transform:scaleX(0.92);transform-origin:0 0">Ela-(gr</span></div>
<div class="r" style="left:996.00px;top:818.00px;width:82.00px;height:22.00px;background:#c0c0c0;"></div>
<div class="t" style="left:1171.80px;top:824.04px;font-size:12px;color:#333;">70</div>
<div class="r" style="left:965.00px;top:847.00px;width:396.00px;height:1.00px;background:#e3e3e3;"></div>
<div class="t" style="left:973.60px;top:860.04px;width:18.90px;overflow:hidden;font-size:12px;color:#333"><span style="display:inline-block;transform:scaleX(0.92);transform-origin:0 0">Ela-gr</span></div>
<div class="r" style="left:992.00px;top:857.00px;width:94.00px;height:21.00px;background:#c0c0c0;"></div>
<div class="t" style="left:1171.80px;top:860.04px;font-size:12px;color:#333;">33</div>
<div class="r" style="left:965.00px;top:883.00px;width:396.00px;height:1.00px;background:#a8a8a8;"></div>
<div class="r" style="left:1439.00px;top:521.00px;width:396.00px;height:33.00px;background:#f9f9f9;"></div>
<div class="r" style="left:1439.00px;top:554.00px;width:396.00px;height:1.00px;background:#dedede;"></div>
<div class="t" style="left:1444.40px;top:530.80px;font-size:13px;font-weight:bold;transform:scaleX(0.9020);transform-origin:0 0;color:#333;">Device Name</div>
<svg class="r" style="left:1522.0px;top:535.5px" width="8" height="10" viewBox="0 0 8 10"><path d="M4 1 L7.5 4.5 L0.5 4.5 Z" fill="#b9b9b9"/><path d="M0.5 5.5 L7.5 5.5 L4 9 Z" fill="#e2e2e2"/></svg>
<div class="t" style="left:1645.20px;top:530.80px;font-size:13px;font-weight:bold;transform:scaleX(0.8501);transform-origin:0 0;color:#333;">Value ( KBps )</div>
<div class="t" style="left:1447.60px;top:567.04px;width:24.90px;overflow:hidden;font-size:12px;color:#333"><span style="display:inline-block;transform:scaleX(0.92);transform-origin:0 0">Opmgr</span></div>
<div class="r" style="left:1472.00px;top:561.00px;width:111.00px;height:23.00px;background:#c0c0c0;"></div>
<div class="t" style="left:1645.40px;top:567.04px;font-size:12px;color:#333;">48</div>
<div class="r" style="left:1439.00px;top:590.00px;width:396.00px;height:1.00px;background:#e3e3e3;"></div>
<div class="t" style="left:1447.60px;top:603.04px;width:18.90px;overflow:hidden;font-size:12px;color:#333"><span style="display:inline-block;transform:scaleX(0.92);transform-origin:0 0">Ela-gr</span></div>
<div class="r" style="left:1466.00px;top:598.00px;width:119.00px;height:23.00px;background:#c0c0c0;"></div>
<div class="t" style="left:1645.40px;top:603.04px;font-size:12px;color:#333;">45</div>
<div class="r" style="left:1439.00px;top:626.00px;width:396.00px;height:1.00px;background:#e3e3e3;"></div>
<div class="t" style="left:1447.60px;top:639.04px;width:19.90px;overflow:hidden;font-size:12px;color:#333"><span style="display:inline-block;transform:scaleX(0.92);transform-origin:0 0">Ela-gr</span></div>
<div class="r" style="left:1467.00px;top:633.00px;width:119.00px;height:22.00px;background:#c0c0c0;"></div>
<div class="t" style="left:1645.40px;top:639.04px;font-size:12px;color:#333;">33</div>
<div class="r" style="left:1439.00px;top:662.00px;width:396.00px;height:1.00px;background:#e3e3e3;"></div>
<div class="t" style="left:1447.60px;top:675.04px;width:21.90px;overflow:hidden;font-size:12px;color:#333"><span style="display:inline-block;transform:scaleX(0.92);transform-origin:0 0">Ela-(gr</span></div>
<div class="r" style="left:1469.00px;top:668.00px;width:121.00px;height:24.00px;background:#c0c0c0;"></div>
<div class="t" style="left:1645.40px;top:675.04px;font-size:12px;color:#333;">31</div>
<div class="r" style="left:1439.00px;top:698.00px;width:396.00px;height:1.00px;background:#e3e3e3;"></div>
<div class="t" style="left:1447.60px;top:711.04px;width:22.90px;overflow:hidden;font-size:12px;color:#333"><span style="display:inline-block;transform:scaleX(0.92);transform-origin:0 0">Kun:gr</span></div>
<div class="r" style="left:1470.00px;top:703.00px;width:123.00px;height:23.00px;background:#c0c0c0;"></div>
<div class="t" style="left:1645.40px;top:711.04px;font-size:12px;color:#333;">27</div>
<div class="r" style="left:1439.00px;top:734.00px;width:396.00px;height:1.00px;background:#e3e3e3;"></div>
<div class="t" style="left:1447.60px;top:747.04px;width:21.90px;overflow:hidden;font-size:12px;color:#333"><span style="display:inline-block;transform:scaleX(0.92);transform-origin:0 0">Ela-(gr</span></div>
<div class="r" style="left:1469.00px;top:741.00px;width:124.00px;height:21.00px;background:#c0c0c0;"></div>
<div class="t" style="left:1645.40px;top:747.04px;font-size:12px;color:#333;">22</div>
<div class="r" style="left:1439.00px;top:770.00px;width:396.00px;height:1.00px;background:#e3e3e3;"></div>
<div class="t" style="left:1447.60px;top:783.04px;width:16.90px;overflow:hidden;font-size:12px;color:#333"><span style="display:inline-block;transform:scaleX(0.92);transform-origin:0 0">Elagr</span></div>
<div class="r" style="left:1464.00px;top:776.00px;width:126.00px;height:21.00px;background:#c0c0c0;"></div>
<div class="t" style="left:1645.40px;top:783.04px;font-size:12px;color:#333;">15</div>
<div class="r" style="left:1439.00px;top:806.00px;width:396.00px;height:1.00px;background:#e3e3e3;"></div>
<div class="t" style="left:1447.60px;top:819.04px;width:18.90px;overflow:hidden;font-size:12px;color:#333"><span style="display:inline-block;transform:scaleX(0.92);transform-origin:0 0">Ela-gr</span></div>
<div class="r" style="left:1466.00px;top:811.00px;width:121.00px;height:23.00px;background:#c0c0c0;"></div>
<div class="t" style="left:1645.40px;top:819.04px;font-size:12px;color:#333;">15</div>
<div class="r" style="left:1439.00px;top:842.00px;width:396.00px;height:1.00px;background:#e3e3e3;"></div>
<div class="t" style="left:1447.60px;top:855.04px;width:19.90px;overflow:hidden;font-size:12px;color:#333"><span style="display:inline-block;transform:scaleX(0.92);transform-origin:0 0">Kungr</span></div>
<div class="r" style="left:1467.00px;top:848.00px;width:119.00px;height:22.00px;background:#c0c0c0;"></div>
<div class="t" style="left:1645.40px;top:855.04px;font-size:12px;color:#333;">6</div>
<div class="r" style="left:1439.00px;top:878.00px;width:396.00px;height:1.00px;background:#e3e3e3;"></div>
<div class="t" style="left:1447.60px;top:891.04px;width:22.90px;overflow:hidden;font-size:12px;color:#333"><span style="display:inline-block;transform:scaleX(0.92);transform-origin:0 0">Opmgr</span></div>
<div class="r" style="left:1470.00px;top:885.00px;width:119.00px;height:20.00px;background:#c0c0c0;"></div>
<div class="t" style="left:1645.40px;top:891.04px;font-size:12px;color:#333;">6</div>
<div class="r" style="left:1439.00px;top:914.00px;width:396.00px;height:1.00px;background:#a8a8a8;"></div>
<div class="r" style="left:1853.00px;top:877.00px;width:49.00px;height:39.00px;background:#37ab6e;"></div>
<div class="r" style="left:1853.00px;top:877.00px;width:49.00px;height:4.00px;background:#47bb7c;"></div>
<svg class="r" style="left:1853px;top:877px" width="49" height="39" viewBox="0 0 49 39"><path d="M16.5 16 V12.5 Q16.5 10.5 18.5 10.5 H33.8 Q35.8 10.5 35.8 12.5 V21 Q35.8 23 33.8 23 H32.3" fill="none" stroke="#fff" stroke-width="1.2"/><path d="M12.5 18.5 Q12.5 16.5 14.5 16.5 H30 Q32 16.5 32 18.5 V27 Q32 29 30 29 H21.5 L17.5 33.5 V29 H14.5 Q12.5 29 12.5 27 Z" fill="none" stroke="#fff" stroke-width="1.2"/><rect x="16.5" y="19.7" width="6" height="1.1" fill="#cfeedd"/><rect x="16.5" y="22.1" width="11.5" height="1.1" fill="#cfeedd"/><rect x="16.5" y="24.7" width="11.5" height="1.1" fill="#cfeedd"/></svg>
</body></html>
